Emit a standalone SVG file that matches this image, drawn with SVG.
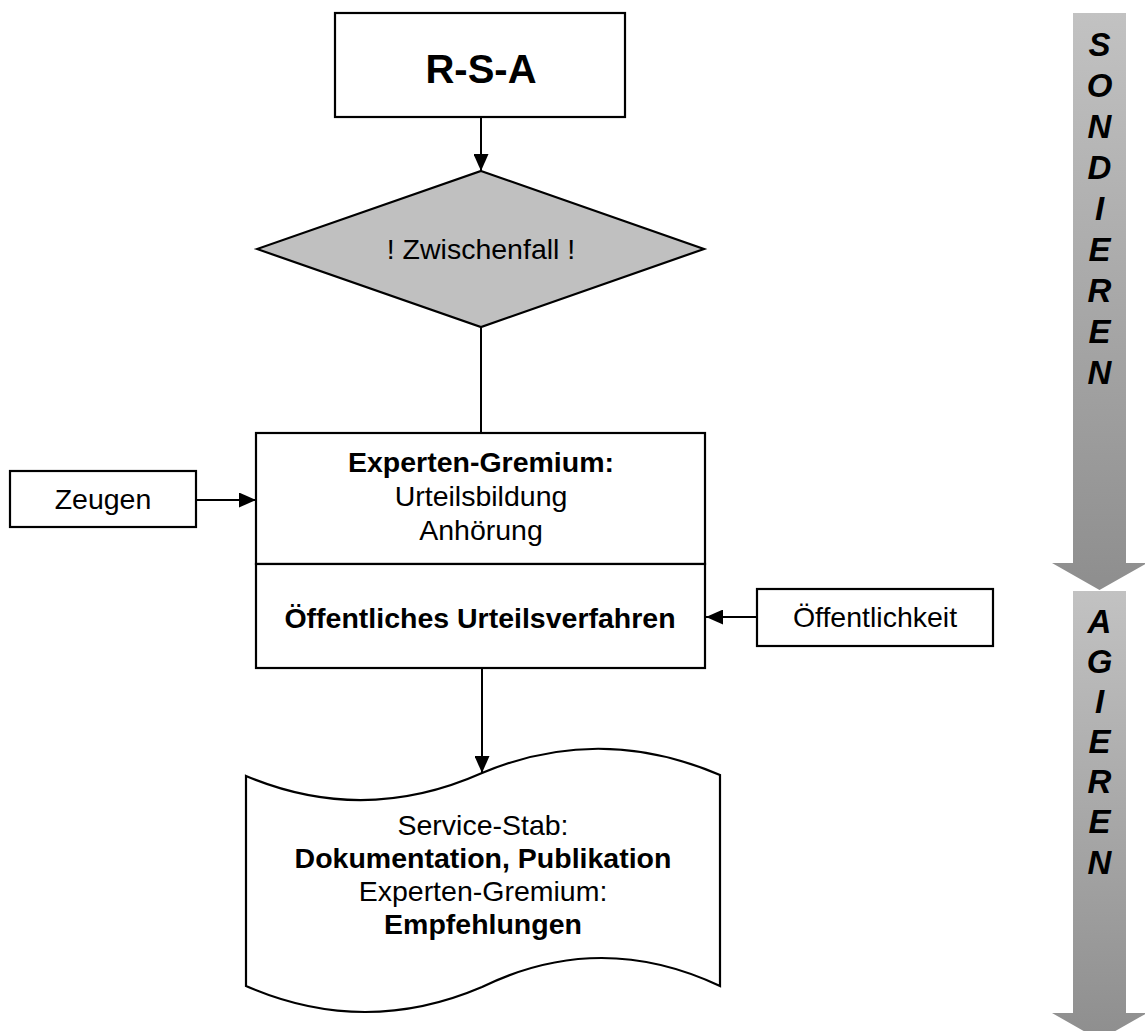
<svg xmlns="http://www.w3.org/2000/svg" width="1145" height="1031" viewBox="0 0 1145 1031">
<style>
.box{fill:#ffffff;stroke:#000000;stroke-width:2.2}
.dia{fill:#c0c0c0;stroke:#000000;stroke-width:2.2}
.con{fill:none;stroke:#000000;stroke-width:2}
.t{font-family:"Liberation Sans",Arial,sans-serif;font-size:28.5px;fill:#000000;text-anchor:middle}
.b{font-weight:bold}
.v{font-family:"Liberation Sans",Arial,sans-serif;font-size:33px;font-weight:bold;font-style:italic;fill:#000000;text-anchor:middle}
</style>
<defs>
<marker id="ah" markerUnits="userSpaceOnUse" markerWidth="17" markerHeight="15" refX="17" refY="7.5" orient="auto">
<path d="M0,0 L17,7.5 L0,15 z" fill="#000000"/>
</marker>
<linearGradient id="g1" x1="0" y1="0" x2="0" y2="1">
<stop offset="0" stop-color="#c2c2c2"/>
<stop offset="1" stop-color="#8e8e8e"/>
</linearGradient>
<linearGradient id="g2" x1="0" y1="0" x2="0" y2="1">
<stop offset="0" stop-color="#c2c2c2"/>
<stop offset="1" stop-color="#8e8e8e"/>
</linearGradient>
</defs>

<g id="phase-sondieren">
<path d="M1073,13 L1126,13 L1126,563 L1147,563 L1099.5,590 L1052,563 L1073,563 z" fill="url(#g1)"/>
<text class="v" x="1099.5" y="56">S</text>
<text class="v" x="1099.5" y="97">O</text>
<text class="v" x="1099.5" y="138">N</text>
<text class="v" x="1099.5" y="179">D</text>
<text class="v" x="1099.5" y="220">I</text>
<text class="v" x="1099.5" y="261">E</text>
<text class="v" x="1099.5" y="302">R</text>
<text class="v" x="1099.5" y="343">E</text>
<text class="v" x="1099.5" y="384">N</text>
</g>

<g id="phase-agieren">
<path d="M1073,591 L1126,591 L1126,1013 L1147,1013 L1099.5,1040 L1052,1013 L1073,1013 z" fill="url(#g2)"/>
<text class="v" x="1099.5" y="633">A</text>
<text class="v" x="1099.5" y="673">G</text>
<text class="v" x="1099.5" y="713">I</text>
<text class="v" x="1099.5" y="753">E</text>
<text class="v" x="1099.5" y="793">R</text>
<text class="v" x="1099.5" y="833">E</text>
<text class="v" x="1099.5" y="874">N</text>
</g>

<g id="connectors">
<line class="con" x1="481" y1="117" x2="481" y2="171" marker-end="url(#ah)"/>
<line class="con" x1="481" y1="327" x2="481" y2="433"/>
<line class="con" x1="196" y1="500" x2="256" y2="500" marker-end="url(#ah)"/>
<line class="con" x1="757" y1="617" x2="706" y2="617" marker-end="url(#ah)"/>
<line class="con" x1="482" y1="668" x2="482" y2="773" marker-end="url(#ah)"/>
</g>

<g id="rsa">
<rect class="box" x="335" y="13" width="290" height="104"/>
<text class="t b" x="481" y="83" style="font-size:40px">R-S-A</text>
</g>

<g id="zwischenfall">
<polygon class="dia" points="481,171 704,249 481,327 257,249"/>
<text class="t" x="481" y="259">! Zwischenfall !</text>
</g>

<g id="experten-gremium">
<rect class="box" x="256" y="433" width="449" height="131"/>
<text class="t b" x="481" y="472">Experten-Gremium:</text>
<text class="t" x="481" y="506">Urteilsbildung</text>
<text class="t" x="481" y="540">Anhörung</text>
</g>

<g id="urteilsverfahren">
<rect class="box" x="256" y="564" width="449" height="104"/>
<text class="t b" x="480" y="628">Öffentliches Urteilsverfahren</text>
</g>

<g id="zeugen">
<rect class="box" x="10" y="471" width="186" height="56"/>
<text class="t" x="103" y="509">Zeugen</text>
</g>

<g id="oeffentlichkeit">
<rect class="box" x="757" y="589" width="236" height="57"/>
<text class="t" x="875" y="627">Öffentlichkeit</text>
</g>

<g id="ergebnis">
<path class="box" d="M246,776 Q364,825.5 482,773 Q600,723.5 720,775 L720,986 Q600,929.5 482,987 Q364,1037.5 246,986 z"/>
<text class="t" x="483" y="835">Service-Stab:</text>
<text class="t b" x="483" y="868">Dokumentation, Publikation</text>
<text class="t" x="483" y="901">Experten-Gremium:</text>
<text class="t b" x="483" y="934">Empfehlungen</text>
</g>
</svg>
